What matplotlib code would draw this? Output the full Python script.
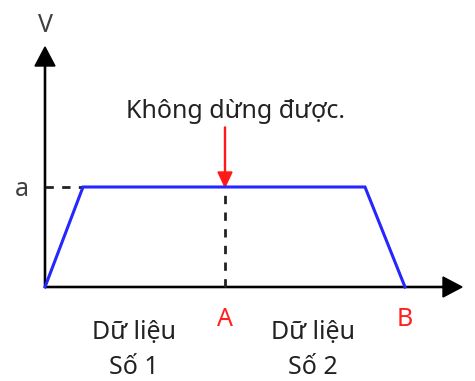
import matplotlib.pyplot as plt

# trapezoid velocity profile (pixel-like units, origin at the axes corner)
t = [0, 38, 320, 360]
v = [0, 100, 100, 0]
a_level = 100
t_A = 180
t_B = 360

x_end = 417
y_end = 240

labels_bottom = ["Dữ liệu\nSố 1", "Dữ liệu\nSố 2"]
labels_x = [89, 268]

plt.rcParams['font.family'] = ['Noto Sans', 'DejaVu Sans']

fig = plt.figure(figsize=(4.75, 3.81), dpi=100)
ax = fig.add_axes([0, 0, 1, 1])
ax.set_xlim(-45, 430)
ax.set_ylim(-94, 287)
ax.axis('off')

# axes with arrows
ax.arrow(0, 0, x_end, 0, width=1.2, head_width=20, head_length=19,
         length_includes_head=True, color='black')
ax.arrow(0, 0, 0, y_end, width=1.2, head_width=20, head_length=19,
         length_includes_head=True, color='black')

# dashed helpers
ax.plot([0, t[1]], [a_level, a_level], color='#222222', lw=2, ls=(0, (3, 3)))
ax.plot([t_A, t_A], [0, a_level], color='#222222', lw=2, ls=(0, (3, 3)))

# velocity profile
ax.plot(t, v, color='#2626ff', lw=2.2, solid_joinstyle='miter')

# red arrow
ax.arrow(t_A, 160, 0, -60, width=1.0, head_width=14, head_length=15,
         length_includes_head=True, color='#ff1a1a')

fs = 18
ax.text(0, 262, "V", ha='center', va='center', fontsize=fs, color='#404040')
ax.text(-23, 97, "a", ha='center', va='center', fontsize=fs, color='#404040')
ax.text(191, 176, "Không dừng được.", ha='center', va='center', fontsize=fs,
        color='#222222')
ax.text(t_A, -33, "A", ha='center', va='center', fontsize=fs, color='#ff2020')
ax.text(t_B, -33, "B", ha='center', va='center', fontsize=fs, color='#ff2020')
for lab, x in zip(labels_bottom, labels_x):
    ax.text(x, -63, lab, ha='center', va='center', fontsize=fs,
            color='#222222', linespacing=1.55)

fig.savefig('out.png', dpi=100)
